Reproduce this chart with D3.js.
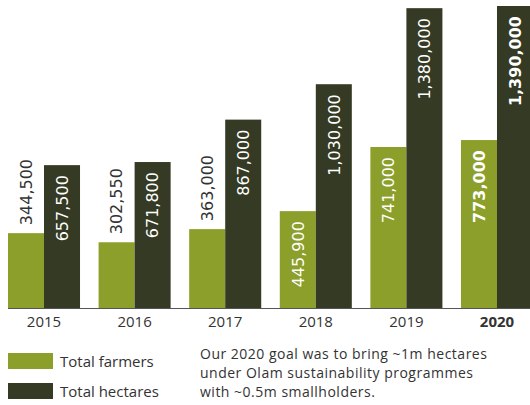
<!DOCTYPE html>
<head>
  <title>Total farmers and hectares</title>
  <style>
    body { margin: 0; background: #fff; }
    text { font-family: "Open Sans", sans-serif; }
  </style>
</head>
<body>
  <script src="https://cdn.jsdelivr.net/npm/d3@7"></script>
  <script>
    // data
    var years = ["2015", "2016", "2017", "2018", "2019", "2020"];
    var farmers = [344500, 302550, 363000, 445900, 741000, 773000];
    var hectares = [657500, 671800, 867000, 1030000, 1380000, 1390000];
    var seriesNames = ["Total farmers", "Total hectares"];
    var noteLines = ["Our 2020 goal was to bring ~1m hectares",
                     "under Olam sustainability programmes",
                     "with ~0.5m smallholders."];

    var colors = ["#8b9f2a", "#343a23"];
    var width = 530, height = 405;
    var baseY = 308;

    var svg = d3.select("body").append("svg")
        .attr("width", width)
        .attr("height", height);

    var x = d3.scaleBand().domain(years).range([8, 533]).paddingInner(0.205).paddingOuter(0);
    var x1 = d3.scaleBand().domain([0, 1]).range([0, x.bandwidth()]);
    var y = d3.scaleLinear().domain([0, 1390000]).range([baseY, 6]);

    var rows = years.map(function(yr, i) {
      return { year: yr, vals: [farmers[i], hectares[i]] };
    });

    var groups = svg.selectAll("g.year").data(rows).enter().append("g")
        .attr("class", "year")
        .attr("transform", function(d) { return "translate(" + x(d.year) + ",0)"; });

    var bars = groups.selectAll("g.bar").data(function(d) {
        return d.vals.map(function(v, k) { return { year: d.year, k: k, v: v }; });
      }).enter().append("g").attr("class", "bar");

    bars.append("rect")
        .attr("x", function(d) { return x1(d.k); })
        .attr("y", function(d) { return y(d.v); })
        .attr("width", x1.bandwidth())
        .attr("height", function(d) { return baseY - y(d.v); })
        .attr("fill", function(d) { return colors[d.k]; });

    // value labels: inside the bar when it is tall enough, else above it
    bars.append("text")
        .attr("transform", function(d) {
          var cx = x1(d.k) + x1.bandwidth() / 2;
          var inside = (baseY - y(d.v)) > 90;
          var ty = inside ? y(d.v) + 10 : y(d.v) - 8;
          return "translate(" + cx + "," + ty + ") rotate(-90)";
        })
        .attr("text-anchor", function(d) { return (baseY - y(d.v)) > 90 ? "end" : "start"; })
        .attr("dy", "0.36em")
        .style("font-family", "'DejaVu Sans', sans-serif")
        .style("font-size", "16px")
        .style("font-weight", function(d) { return d.year == "2020" ? "bold" : "normal"; })
        .attr("fill", function(d) { return (baseY - y(d.v)) > 90 ? "#fff" : "#333"; })
        .text(function(d) { return d3.format(",")(d.v); });

    // x axis
    var axis = svg.append("g").attr("transform", "translate(0," + baseY + ")")
        .call(d3.axisBottom(x).tickSize(0).tickPadding(8));
    axis.select(".domain").attr("stroke", "#555").attr("d", "M8,0.5H530");
    axis.selectAll(".tick text")
        .style("font-size", "15px")
        .attr("fill", "#333")
        .style("font-weight", function(d) { return d == "2020" ? "bold" : "normal"; });

    // legend
    var legend = svg.selectAll("g.legend").data(seriesNames).enter().append("g")
        .attr("class", "legend")
        .attr("transform", function(d, i) { return "translate(8," + (353 + i * 30) + ")"; });
    legend.append("rect").attr("width", 45).attr("height", 16)
        .attr("fill", function(d, i) { return colors[i]; });
    legend.append("text").attr("x", 52).attr("y", 14)
        .style("font-size", "15px").attr("fill", "#333")
        .text(function(d) { return d; });

    // note
    svg.append("text").attr("x", 200).attr("y", 359)
        .style("font-size", "14px").style("letter-spacing", "0.5px").attr("fill", "#333")
        .selectAll("tspan").data(noteLines).enter().append("tspan")
        .attr("x", 200)
        .attr("dy", function(d, i) { return i ? 19 : 0; })
        .text(function(d) { return d; });
  </script>
</body>
